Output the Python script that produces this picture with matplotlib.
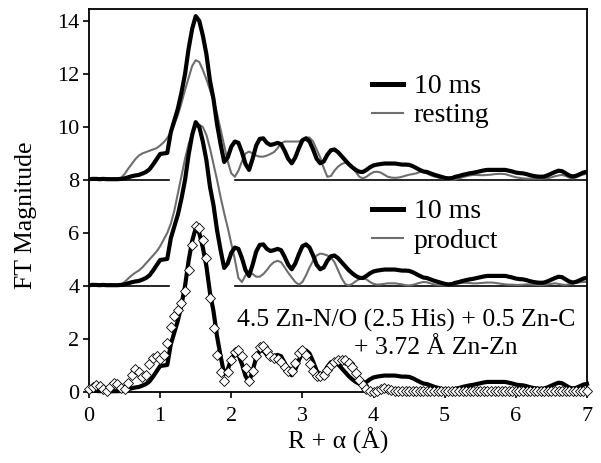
import numpy as np
import matplotlib
matplotlib.use("Agg")
import matplotlib.pyplot as plt
from matplotlib.lines import Line2D

plt.rcParams['font.family'] = ['Liberation Serif', 'DejaVu Serif']

# ---- data ----
r = np.round(np.arange(0, 7.0001, 0.05), 2)

ms10 = [0.03,0.04,0.04,0.03,0.04,0.03,0.03,0.03,0.03,0.04,
        0.06,0.10,0.14,0.17,0.19,0.24,0.30,0.40,0.58,0.78,
        0.98,1.00,1.02,1.80,2.25,2.70,3.30,4.00,4.95,5.70,
        6.18,6.00,5.45,4.75,3.75,3.05,2.10,1.35,0.68,0.85,
        1.25,1.45,1.40,1.05,0.60,0.38,0.80,1.30,1.55,1.57,
        1.40,1.32,1.35,1.40,1.35,1.10,0.80,0.63,0.85,1.20,
        1.50,1.57,1.45,1.15,0.80,0.63,0.70,0.95,1.12,1.15,
        1.05,0.90,0.75,0.60,0.48,0.38,0.31,0.30,0.38,0.48,
        0.55,0.58,0.60,0.62,0.62,0.62,0.62,0.60,0.58,0.58,
        0.57,0.52,0.45,0.38,0.32,0.30,0.25,0.20,0.16,0.12,
        0.08,0.06,0.07,0.12,0.15,0.19,0.22,0.25,0.27,0.30,
        0.33,0.36,0.38,0.38,0.38,0.38,0.38,0.38,0.35,0.32,
        0.28,0.26,0.25,0.22,0.18,0.15,0.13,0.12,0.13,0.18,
        0.24,0.30,0.35,0.33,0.25,0.17,0.13,0.16,0.22,0.28,
        0.31]

resting = [0.02,0.03,0.03,0.03,0.03,0.03,0.03,0.03,0.03,0.08,
           0.22,0.42,0.60,0.78,0.92,1.00,1.05,1.10,1.15,1.20,
           1.30,1.42,1.58,1.80,2.10,2.45,2.90,3.40,3.85,4.30,
           4.52,4.45,4.15,3.80,3.40,3.00,2.50,1.90,1.30,0.70,
           0.25,0.12,0.35,0.70,1.00,1.07,1.00,0.92,0.88,0.88,
           0.92,0.98,1.05,1.20,1.38,1.45,1.45,1.45,1.45,1.45,
           1.50,1.60,1.60,1.45,1.15,0.85,0.45,0.12,0.15,0.35,
           0.50,0.60,0.65,0.60,0.45,0.30,0.12,0.06,0.12,0.22,
           0.30,0.31,0.28,0.20,0.12,0.09,0.08,0.09,0.12,0.16,
           0.20,0.22,0.25,0.30,0.31,0.25,0.18,0.13,0.10,0.06,
           0.03,0.01,0.00,0.02,0.06,0.10,0.14,0.17,0.19,0.19,
           0.18,0.18,0.19,0.20,0.22,0.23,0.23,0.22,0.18,0.14,
           0.10,0.08,0.06,0.05,0.05,0.05,0.05,0.05,0.06,0.07,
           0.10,0.14,0.17,0.19,0.15,0.09,0.06,0.10,0.16,0.21,
           0.23]

product = [0.03,0.08,0.04,0.02,0.06,0.03,0.07,0.04,0.03,0.05,
           0.15,0.28,0.40,0.50,0.58,0.70,0.85,1.00,1.15,1.30,
           1.50,1.75,2.00,2.35,2.85,3.50,4.15,4.80,5.35,5.75,
           6.00,6.08,6.00,5.70,5.20,4.60,4.00,3.35,2.75,2.20,
           1.60,1.00,0.30,0.15,0.40,0.55,0.45,0.35,0.35,0.45,
           0.60,0.78,0.90,0.95,0.90,0.70,0.50,0.32,0.15,0.05,
           0.15,0.40,0.70,0.95,1.15,1.22,1.20,1.15,1.08,0.90,
           0.60,0.30,0.08,0.02,0.08,0.18,0.26,0.29,0.25,0.15,
           0.08,0.05,0.06,0.08,0.10,0.10,0.10,0.08,0.06,0.03,
           0.02,0.04,0.08,0.12,0.15,0.14,0.10,0.06,0.04,0.03,
           0.02,0.03,0.05,0.08,0.10,0.12,0.12,0.11,0.10,0.10,
           0.11,0.12,0.13,0.13,0.12,0.10,0.08,0.06,0.05,0.05,
           0.04,0.04,0.05,0.06,0.06,0.05,0.04,0.03,0.04,0.06,
           0.08,0.10,0.08,0.05,0.04,0.06,0.09,0.12,0.14,0.15,
           0.16]

fit = [0.10,0.20,0.26,0.22,0.10,0.05,0.20,0.33,0.30,0.15,
       0.10,0.35,0.65,0.85,0.75,0.55,0.65,1.05,1.30,1.35,
       1.25,1.40,1.85,2.45,2.85,3.10,3.35,3.80,4.60,5.55,
       6.25,6.20,5.75,5.05,3.55,2.40,1.40,0.75,0.40,0.75,
       1.20,1.50,1.60,1.35,0.90,0.40,0.80,1.35,1.70,1.75,
       1.55,1.35,1.30,1.25,1.15,0.95,0.78,0.78,1.10,1.48,
       1.58,1.40,1.05,0.78,0.62,0.60,0.66,0.82,1.02,1.15,
       1.20,1.22,1.20,1.10,0.95,0.72,0.45,0.25,0.10,0.03,
       0.01,0.05,0.12,0.15,0.12,0.08,0.05,0.04,0.04,0.05,
       0.05,0.05,0.04,0.04,0.04,0.05,0.05,0.05,0.04,0.04,
       0.04,0.04,0.05,0.05,0.05,0.04,0.04,0.04,0.05,0.05,
       0.05,0.05,0.05,0.04,0.04,0.04,0.04,0.05,0.05,0.05,
       0.05,0.04,0.04,0.04,0.04,0.05,0.05,0.05,0.04,0.04,
       0.04,0.04,0.05,0.05,0.05,0.04,0.04,0.04,0.04,0.04,
       0.04]

offsets = [8, 4, 0]
baseline_segments = [(0.0, 1.12), (2.05, 7.0)]
xticks = [0, 1, 2, 3, 4, 5, 6, 7]
yticks = [0, 2, 4, 6, 8, 10, 12, 14]

ms10 = np.array(ms10)
resting = np.array(resting)
product = np.array(product)
fit = np.array(fit)

# ---- figure ----
W, H = 601, 463
fig = plt.figure(figsize=(W / 100, H / 100), dpi=100)
ax = fig.add_axes([89 / W, 1 - 392 / H, (587 - 89) / W, (392 - 9) / H])

GRAY = '#6e6e6e'
LW_THICK = 3.0
LW_THIN = 1.5

# baselines
for off in offsets[:2]:
    for a, b in baseline_segments:
        ax.plot([a, b], [off, off], color='black', lw=1.2, zorder=1)

# top: 10 ms vs resting
ax.plot(r, resting + offsets[0], color=GRAY, lw=LW_THIN, zorder=2)
ax.plot(r, ms10 + offsets[0], color='black', lw=LW_THICK, zorder=3)
# middle: 10 ms vs product
ax.plot(r, product + offsets[1], color=GRAY, lw=LW_THIN, zorder=2)
ax.plot(r, ms10 + offsets[1], color='black', lw=LW_THICK, zorder=3)
# bottom: data + fit
ax.plot(r, ms10 + offsets[2], color='black', lw=LW_THICK, zorder=3, clip_on=False)
ax.plot(r, fit + offsets[2], linestyle='none', marker='D', markersize=4.8,
        markerfacecolor='white', markeredgecolor='black', markeredgewidth=0.6,
        zorder=4, clip_on=False)

ax.set_xlim(0, 7)
ax.set_ylim(0, 14.45)
ax.set_xticks(xticks)
ax.set_yticks(yticks)
ax.tick_params(direction='out', length=4, width=1.2, labelsize=16)
ax.tick_params(axis='x', pad=7)
ax.tick_params(axis='y', pad=3)
for s in ax.spines.values():
    s.set_linewidth(1.3)

ax.set_xlabel('R + α (Å)', fontsize=18.5)
ax.set_ylabel('FT Magnitude', fontsize=18.5)
ax.xaxis.set_label_coords(0.5, -0.092)
ax.yaxis.set_label_coords(-0.104, 0.462)

# legends
h_thick = Line2D([], [], color='black', lw=LW_THICK + 0.6)
h_thin = Line2D([], [], color=GRAY, lw=LW_THIN)
leg_kw = dict(frameon=False, fontsize=20, handlelength=1.1, handletextpad=0.4,
              labelspacing=0.13, borderpad=0, borderaxespad=0,
              loc='upper left', bbox_transform=fig.transFigure)
leg1 = ax.legend([h_thick, h_thin], ['10 ms', 'resting'],
                 bbox_to_anchor=(372 / W, 1 - 74 / H), **leg_kw)
ax.add_artist(leg1)
leg2 = ax.legend([h_thick, h_thin], ['10 ms', 'product'],
                 bbox_to_anchor=(372 / W, 1 - 199 / H), **leg_kw)

# annotation
fig.text(406 / W, 1 - 320 / H, '4.5 Zn-N/O (2.5 His) + 0.5 Zn-C',
         fontsize=18.5, ha='center', va='center')
fig.text(436 / W, 1 - 348 / H, '+ 3.72 Å Zn-Zn',
         fontsize=18.5, ha='center', va='center')

fig.savefig('out.png', dpi=100)
